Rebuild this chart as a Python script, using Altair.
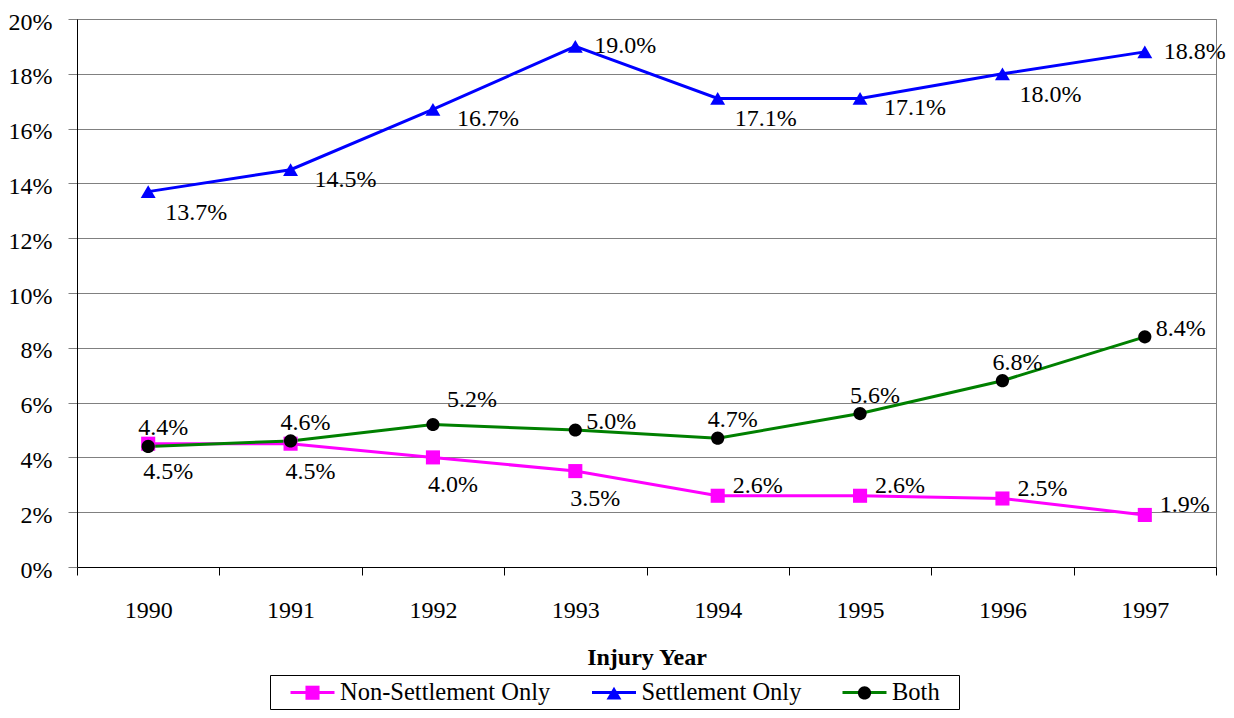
import altair as alt
import pandas as pd

# ---------------- data ----------------
years = ["1990", "1991", "1992", "1993", "1994", "1995", "1996", "1997"]
series_names = ["Non-Settlement Only", "Settlement Only", "Both"]
non_settlement = [4.5, 4.5, 4.0, 3.5, 2.6, 2.6, 2.5, 1.9]
settlement = [13.7, 14.5, 16.7, 19.0, 17.1, 17.1, 18.0, 18.8]
both = [4.4, 4.6, 5.2, 5.0, 4.7, 5.6, 6.8, 8.4]
y_ticks = [0, 2, 4, 6, 8, 10, 12, 14, 16, 18, 20]

# ---------------- styling ----------------
FONT = "Liberation Serif"
line_colors = ["#FF00FF", "#0000FF", "#008000"]
marker_colors = ["#FF00FF", "#0000FF", "#000000"]
marker_paths = [
    "M-0.64,-0.64H0.64V0.64H-0.64Z",
    "M0,-0.58L0.68,0.58H-0.68Z",
    "M-0.6,0A0.6,0.6,0,1,1,0.6,0A0.6,0.6,0,1,1,-0.6,0Z",
]
legend_line_path = "M-2,0H2"

# where each data label sits relative to its point
label_place = {
    "Non-Settlement Only": ["below", "below", "below", "below", "right", "right", "right", "right"],
    "Settlement Only": ["belowright", "lowright", "lowright", "sright", "belowright", "lowright", "belowright", "sright"],
    "Both": ["above", "above", "aboveright", "bright", "above", "above", "above", "bright"],
}
place_style = {
    "below": dict(align="center", dx=20, dy=35),
    "right": dict(align="left", dx=15, dy=-3),
    "belowright": dict(align="left", dx=17, dy=28),
    "lowright": dict(align="left", dx=24, dy=17),
    "sright": dict(align="left", dx=19, dy=7),
    "above": dict(align="center", dx=15, dy=-11),
    "aboveright": dict(align="left", dx=14, dy=-18),
    "bright": dict(align="left", dx=11, dy=-1),
}

rows = []
for s, vals in zip(series_names, [non_settlement, settlement, both]):
    for i, (yr, v) in enumerate(zip(years, vals)):
        rows.append({"year": yr, "series": s, "value": v,
                     "label": f"{v:.1f}%", "place": label_place[s][i]})
df = pd.DataFrame(rows)

base = alt.Chart(df)

x_enc = alt.X(
    "year:O",
    sort=years,
    scale=alt.Scale(type="band", paddingInner=0, paddingOuter=0),
    axis=alt.Axis(
        title="Injury Year", labelAngle=0, tickBand="extent", tickSize=8,
        tickColor="black", domainColor="black", labelPadding=23,
        labelFont=FONT, labelFontSize=24, labelColor="black",
        titleFont=FONT, titleFontSize=24, titleFontWeight="bold",
        titleColor="black", titleBaseline="alphabetic", titleY=97, grid=False,
    ),
)
y_enc = alt.Y(
    "value:Q",
    scale=alt.Scale(domain=[0, 20], nice=False),
    axis=alt.Axis(
        title=None, values=y_ticks, labelExpr="datum.value + '%'",
        tickSize=9, tickColor="#808080", domainColor="black",
        gridColor="#808080", labelPadding=16, labelOffset=3,
        labelFont=FONT, labelFontSize=24, labelColor="black",
    ),
)

leg_common = dict(
    orient="none", legendX=193, legendY=656, direction="horizontal",
    columns=3, labelFont=FONT, labelFontSize=24.5,
    labelColor="black", symbolOffset=25, labelOffset=15, labelLimit=0,
    symbolSize=484, symbolStrokeWidth=3, columnPadding=25.5, padding=5,
    title="\u00a0", titleOrient="right", titlePadding=14, titleFontSize=10,
)

# line legend: stroke scale ordered by sort (so it does not merge with marker legend)
lines = base.mark_line(strokeWidth=3).encode(
    x=x_enc, y=y_enc,
    stroke=alt.Stroke(
        "series:N", sort=series_names,
        scale=alt.Scale(range=line_colors),
        legend=alt.Legend(symbolType=legend_line_path, strokeColor="black", **leg_common),
    ),
)

marker_legend = alt.Legend(labelOpacity=0, symbolStrokeColor="transparent", **leg_common)
points = base.transform_calculate(series_pt="datum.series").mark_point(
    filled=True, size=484, opacity=1
).encode(
    x=x_enc, y=y_enc,
    fill=alt.Fill(
        "series_pt:N",
        scale=alt.Scale(domain=series_names, range=marker_colors),
        legend=marker_legend,
    ),
    shape=alt.Shape(
        "series_pt:N",
        scale=alt.Scale(domain=series_names, range=marker_paths),
        legend=marker_legend,
    ),
)

texts = []
for code, st in place_style.items():
    texts.append(
        base.transform_filter(alt.datum.place == code).mark_text(
            font=FONT, fontSize=24, color="black", baseline="alphabetic", **st
        ).encode(x=x_enc, y=y_enc, text="label:N")
    )

chart = alt.layer(lines, points, *texts).properties(
    width=1139, height=548,
    padding={"left": 69, "top": 11, "right": 10, "bottom": 143},
    autosize=alt.AutoSizeParams(type="none"),
    background="white",
).configure_view(stroke="#808080", strokeWidth=1)

chart.save("out.html", embed_options={"renderer": "svg", "actions": False})
